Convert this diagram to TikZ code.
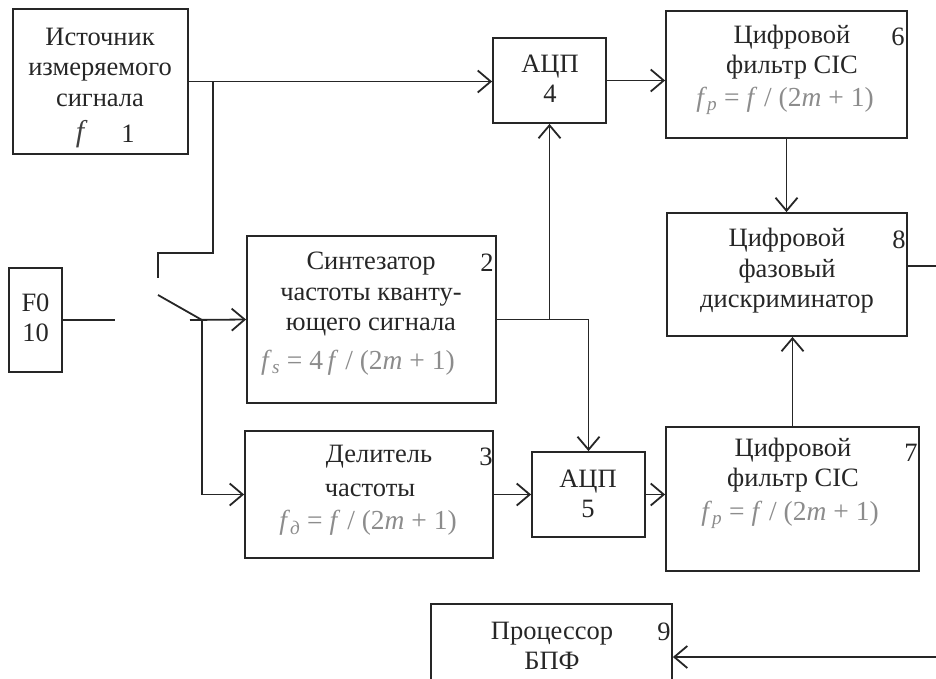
\documentclass[tikz,border=0pt]{standalone}
\usepackage{fontspec}
\setmainfont{Liberation Serif}
\usetikzlibrary{arrows.meta}
\begin{document}
\begin{tikzpicture}[x=1pt,y=-1pt,
  box/.style={draw=black!85, line width=1.8pt, inner sep=0pt, rectangle},
  txt/.style={text=black!85, align=center, font=\fontsize{26.5}{30.5}\selectfont, inner sep=0pt},
  num/.style={text=black!85, font=\fontsize{26.5}{30}\selectfont, inner sep=0pt},
  frm/.style={text=black!45, font=\fontsize{27.5}{30}\selectfont, inner sep=0pt},
  wire/.style={draw=black!85, line width=1.8pt},
  arr/.style={wire, -{Straight Barb[length=13pt,width=22pt]}},
]
\useasboundingbox (0,0) rectangle (936,679);
\clip (0,0) rectangle (936,679);

% boxes
\node[box, minimum width=175pt, minimum height=145pt] (b1) at (100.5,81.5) {};
\node[box, minimum width=53pt, minimum height=104pt] (b10) at (35.5,320) {};
\node[box, minimum width=249pt, minimum height=167pt] (b2) at (371.5,319.5) {};
\node[box, minimum width=113pt, minimum height=85pt] (b4) at (549.5,80.5) {};
\node[box, minimum width=241pt, minimum height=127pt] (b6) at (786.5,74.5) {};
\node[box, minimum width=240pt, minimum height=123pt] (b8) at (787,274.5) {};
\node[box, minimum width=248pt, minimum height=127pt] (b3) at (369,494.5) {};
\node[box, minimum width=113pt, minimum height=85pt] (b5) at (588.5,494.5) {};
\node[box, minimum width=253pt, minimum height=144pt] (b7) at (792.5,499) {};
\node[box, minimum width=241pt, minimum height=96pt] (b9) at (551.5,652) {};

% texts
\node[txt] (t1) at (100,67) {Источник\\измеряемого\\сигнала};
\node[frm, text=black!75, font=\fontsize{30}{30}\selectfont\itshape] (t1f) at (80,134) {f};
\node[num] (n1) at (128,134) {1};
\node[txt] (t10) at (35.5,318) {F0\\10};
\node[txt] (t2) at (371,294) {Синтезатор\\частоты кванту-\\ющего сигнала};
\node[frm] (f2) at (358,363) {\textit{f}\textsubscript{\textit{s}} = 4\,\textit{f} / (2\textit{m} + 1)};
\node[num] (n2) at (487,263) {2};
\node[txt] (t4) at (550,79) {АЦП\\4};
\node[txt] (t6) at (792,52) {Цифровой\\фильтр CIC};
\node[frm] (f6) at (785,101) {\textit{f}\textsubscript{\textit{p}} = \textit{f} / (2\textit{m} + 1)};
\node[num] (n6) at (898,37) {6};
\node[txt] (t8) at (787,271) {Цифровой\\фазовый\\дискриминатор};
\node[num] (n8) at (899,240) {8};
\node[txt] (t3) at (379,457) {Делитель};
\node[txt] (t3b) at (370,490) {частоты};
\node[frm] (f3) at (368,523) {\textit{f}\textsubscript{\textit{д}} = \textit{f} / (2\textit{m} + 1)};
\node[num] (n3) at (486,457) {3};
\node[txt] (t5) at (588,494) {АЦП\\5};
\node[txt] (t7) at (793,465) {Цифровой\\фильтр CIC};
\node[frm] (f7) at (790,515) {\textit{f}\textsubscript{\textit{p}} = \textit{f} / (2\textit{m} + 1)};
\node[num] (n7) at (911,453) {7};
\node[txt] (t9) at (552,646) {Процессор\\БПФ};
\node[num] (n9) at (664,632) {9};

% coordinates
\coordinate (j1) at (213,81.5);
\coordinate (c1) at (213,253);
\coordinate (c2) at (158,253);
\coordinate (swtop) at (158,278);
\coordinate (swbl) at (158,295);
\coordinate (piv) at (202,320);
\coordinate (f0end) at (115,320);
\coordinate (h0) at (190,320);
\coordinate (r1) at (940,266);
\coordinate (r2) at (940,657);

% connectors
\draw[arr] (b1.east) -- (b1.east -| b4.west);
\draw[wire] (j1) -- (c1) -- (c2) -- (swtop);
\draw[wire] (b10.east) -- (f0end);
\draw[wire] (swbl) -- (piv);
\draw[arr] (h0) -- (b2.west);
\draw[arr] (piv) |- (b3.west);
\draw[arr] (b2.east) -| (b5.north);
\draw[arr] (b2.east -| b4.south) -- (b4.south);
\draw[arr] (b4.east) -- (b4.east -| b6.west);
\draw[arr] (b6.south) -- (b6.south |- b8.north);
\draw[arr] (b7.north) -- (b7.north |- b8.south);
\draw[arr] (b3.east) -- (b5.west);
\draw[arr] (b5.east) -- (b5.east -| b7.west);
\draw[wire] (b8.east |- r1) -- (r1);
\draw[arr] (r2) -- (r2 -| b9.east);
\end{tikzpicture}
\end{document}
